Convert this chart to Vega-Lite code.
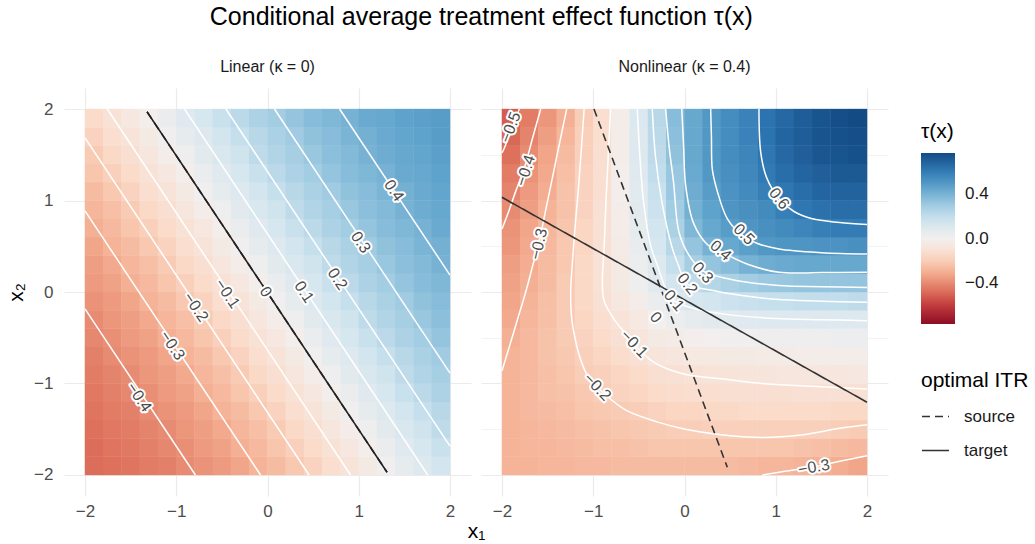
{
  "$schema": "https://vega.github.io/schema/vega-lite/v6.json",
  "padding": 5,
  "title": {"text": "Conditional average treatment effect function τ(x)", "fontSize": 25, "fontWeight": "normal", "color": "#000000", "anchor": "middle", "offset": 29, "dx": -36},
  "config": {
    "font": "Liberation Sans",
    "view": {"stroke": null},
    "axis": {"domain": false, "ticks": false, "gridColor": "#ebebeb", "labelColor": "#4d4d4d", "labelFontSize": 17, "titleFontSize": 21, "titleFontWeight": "normal", "titleColor": "#000000", "labelPadding": 7, "labelOverlap": false},
    "legend": {"titleFontSize": 21, "titleFontWeight": "normal", "titleColor": "#000000", "labelFontSize": 17, "labelColor": "#1a1a1a"}
  },
  "datasets": {
    "lin": [
      {"x":-1.9,"y":-1.9,"t":-0.48},{"x":-1.7,"y":-1.9,"t":-0.47},{"x":-1.5,"y":-1.9,"t":-0.46},{"x":-1.3,"y":-1.9,"t":-0.44},{"x":-1.1,"y":-1.9,"t":-0.43},{"x":-0.9,"y":-1.9,"t":-0.40},{"x":-0.7,"y":-1.9,"t":-0.38},{"x":-0.5,"y":-1.9,"t":-0.36},{"x":-0.3,"y":-1.9,"t":-0.33},{"x":-0.1,"y":-1.9,"t":-0.29},{"x":0.1,"y":-1.9,"t":-0.26},{"x":0.3,"y":-1.9,"t":-0.22},{"x":0.5,"y":-1.9,"t":-0.18},{"x":0.7,"y":-1.9,"t":-0.13},{"x":0.9,"y":-1.9,"t":-0.09},{"x":1.1,"y":-1.9,"t":-0.04},{"x":1.3,"y":-1.9,"t":0.01},{"x":1.5,"y":-1.9,"t":0.06},{"x":1.7,"y":-1.9,"t":0.10},{"x":1.9,"y":-1.9,"t":0.15},
      {"x":-1.9,"y":-1.7,"t":-0.48},{"x":-1.7,"y":-1.7,"t":-0.46},{"x":-1.5,"y":-1.7,"t":-0.45},{"x":-1.3,"y":-1.7,"t":-0.43},{"x":-1.1,"y":-1.7,"t":-0.41},{"x":-0.9,"y":-1.7,"t":-0.39},{"x":-0.7,"y":-1.7,"t":-0.36},{"x":-0.5,"y":-1.7,"t":-0.34},{"x":-0.3,"y":-1.7,"t":-0.30},{"x":-0.1,"y":-1.7,"t":-0.27},{"x":0.1,"y":-1.7,"t":-0.23},{"x":0.3,"y":-1.7,"t":-0.19},{"x":0.5,"y":-1.7,"t":-0.15},{"x":0.7,"y":-1.7,"t":-0.10},{"x":0.9,"y":-1.7,"t":-0.06},{"x":1.1,"y":-1.7,"t":-0.01},{"x":1.3,"y":-1.7,"t":0.04},{"x":1.5,"y":-1.7,"t":0.09},{"x":1.7,"y":-1.7,"t":0.13},{"x":1.9,"y":-1.7,"t":0.18},
      {"x":-1.9,"y":-1.5,"t":-0.47},{"x":-1.7,"y":-1.5,"t":-0.45},{"x":-1.5,"y":-1.5,"t":-0.44},{"x":-1.3,"y":-1.5,"t":-0.42},{"x":-1.1,"y":-1.5,"t":-0.40},{"x":-0.9,"y":-1.5,"t":-0.37},{"x":-0.7,"y":-1.5,"t":-0.35},{"x":-0.5,"y":-1.5,"t":-0.32},{"x":-0.3,"y":-1.5,"t":-0.28},{"x":-0.1,"y":-1.5,"t":-0.25},{"x":0.1,"y":-1.5,"t":-0.21},{"x":0.3,"y":-1.5,"t":-0.16},{"x":0.5,"y":-1.5,"t":-0.12},{"x":0.7,"y":-1.5,"t":-0.07},{"x":0.9,"y":-1.5,"t":-0.02},{"x":1.1,"y":-1.5,"t":0.02},{"x":1.3,"y":-1.5,"t":0.07},{"x":1.5,"y":-1.5,"t":0.12},{"x":1.7,"y":-1.5,"t":0.16},{"x":1.9,"y":-1.5,"t":0.21},
      {"x":-1.9,"y":-1.3,"t":-0.46},{"x":-1.7,"y":-1.3,"t":-0.44},{"x":-1.5,"y":-1.3,"t":-0.43},{"x":-1.3,"y":-1.3,"t":-0.40},{"x":-1.1,"y":-1.3,"t":-0.38},{"x":-0.9,"y":-1.3,"t":-0.36},{"x":-0.7,"y":-1.3,"t":-0.33},{"x":-0.5,"y":-1.3,"t":-0.29},{"x":-0.3,"y":-1.3,"t":-0.26},{"x":-0.1,"y":-1.3,"t":-0.22},{"x":0.1,"y":-1.3,"t":-0.18},{"x":0.3,"y":-1.3,"t":-0.13},{"x":0.5,"y":-1.3,"t":-0.09},{"x":0.7,"y":-1.3,"t":-0.04},{"x":0.9,"y":-1.3,"t":0.01},{"x":1.1,"y":-1.3,"t":0.06},{"x":1.3,"y":-1.3,"t":0.10},{"x":1.5,"y":-1.3,"t":0.15},{"x":1.7,"y":-1.3,"t":0.19},{"x":1.9,"y":-1.3,"t":0.23},
      {"x":-1.9,"y":-1.1,"t":-0.45},{"x":-1.7,"y":-1.1,"t":-0.43},{"x":-1.5,"y":-1.1,"t":-0.41},{"x":-1.3,"y":-1.1,"t":-0.39},{"x":-1.1,"y":-1.1,"t":-0.36},{"x":-0.9,"y":-1.1,"t":-0.34},{"x":-0.7,"y":-1.1,"t":-0.30},{"x":-0.5,"y":-1.1,"t":-0.27},{"x":-0.3,"y":-1.1,"t":-0.23},{"x":-0.1,"y":-1.1,"t":-0.19},{"x":0.1,"y":-1.1,"t":-0.15},{"x":0.3,"y":-1.1,"t":-0.10},{"x":0.5,"y":-1.1,"t":-0.06},{"x":0.7,"y":-1.1,"t":-0.01},{"x":0.9,"y":-1.1,"t":0.04},{"x":1.1,"y":-1.1,"t":0.09},{"x":1.3,"y":-1.1,"t":0.13},{"x":1.5,"y":-1.1,"t":0.18},{"x":1.7,"y":-1.1,"t":0.22},{"x":1.9,"y":-1.1,"t":0.26},
      {"x":-1.9,"y":-0.9,"t":-0.44},{"x":-1.7,"y":-0.9,"t":-0.42},{"x":-1.5,"y":-0.9,"t":-0.40},{"x":-1.3,"y":-0.9,"t":-0.37},{"x":-1.1,"y":-0.9,"t":-0.35},{"x":-0.9,"y":-0.9,"t":-0.32},{"x":-0.7,"y":-0.9,"t":-0.28},{"x":-0.5,"y":-0.9,"t":-0.25},{"x":-0.3,"y":-0.9,"t":-0.21},{"x":-0.1,"y":-0.9,"t":-0.16},{"x":0.1,"y":-0.9,"t":-0.12},{"x":0.3,"y":-0.9,"t":-0.07},{"x":0.5,"y":-0.9,"t":-0.02},{"x":0.7,"y":-0.9,"t":0.02},{"x":0.9,"y":-0.9,"t":0.07},{"x":1.1,"y":-0.9,"t":0.12},{"x":1.3,"y":-0.9,"t":0.16},{"x":1.5,"y":-0.9,"t":0.21},{"x":1.7,"y":-0.9,"t":0.25},{"x":1.9,"y":-0.9,"t":0.28},
      {"x":-1.9,"y":-0.7,"t":-0.43},{"x":-1.7,"y":-0.7,"t":-0.40},{"x":-1.5,"y":-0.7,"t":-0.38},{"x":-1.3,"y":-0.7,"t":-0.36},{"x":-1.1,"y":-0.7,"t":-0.33},{"x":-0.9,"y":-0.7,"t":-0.29},{"x":-0.7,"y":-0.7,"t":-0.26},{"x":-0.5,"y":-0.7,"t":-0.22},{"x":-0.3,"y":-0.7,"t":-0.18},{"x":-0.1,"y":-0.7,"t":-0.13},{"x":0.1,"y":-0.7,"t":-0.09},{"x":0.3,"y":-0.7,"t":-0.04},{"x":0.5,"y":-0.7,"t":0.01},{"x":0.7,"y":-0.7,"t":0.06},{"x":0.9,"y":-0.7,"t":0.10},{"x":1.1,"y":-0.7,"t":0.15},{"x":1.3,"y":-0.7,"t":0.19},{"x":1.5,"y":-0.7,"t":0.23},{"x":1.7,"y":-0.7,"t":0.27},{"x":1.9,"y":-0.7,"t":0.30},
      {"x":-1.9,"y":-0.5,"t":-0.41},{"x":-1.7,"y":-0.5,"t":-0.39},{"x":-1.5,"y":-0.5,"t":-0.36},{"x":-1.3,"y":-0.5,"t":-0.34},{"x":-1.1,"y":-0.5,"t":-0.30},{"x":-0.9,"y":-0.5,"t":-0.27},{"x":-0.7,"y":-0.5,"t":-0.23},{"x":-0.5,"y":-0.5,"t":-0.19},{"x":-0.3,"y":-0.5,"t":-0.15},{"x":-0.1,"y":-0.5,"t":-0.10},{"x":0.1,"y":-0.5,"t":-0.06},{"x":0.3,"y":-0.5,"t":-0.01},{"x":0.5,"y":-0.5,"t":0.04},{"x":0.7,"y":-0.5,"t":0.09},{"x":0.9,"y":-0.5,"t":0.13},{"x":1.1,"y":-0.5,"t":0.18},{"x":1.3,"y":-0.5,"t":0.22},{"x":1.5,"y":-0.5,"t":0.26},{"x":1.7,"y":-0.5,"t":0.29},{"x":1.9,"y":-0.5,"t":0.33},
      {"x":-1.9,"y":-0.3,"t":-0.40},{"x":-1.7,"y":-0.3,"t":-0.37},{"x":-1.5,"y":-0.3,"t":-0.35},{"x":-1.3,"y":-0.3,"t":-0.32},{"x":-1.1,"y":-0.3,"t":-0.28},{"x":-0.9,"y":-0.3,"t":-0.25},{"x":-0.7,"y":-0.3,"t":-0.21},{"x":-0.5,"y":-0.3,"t":-0.16},{"x":-0.3,"y":-0.3,"t":-0.12},{"x":-0.1,"y":-0.3,"t":-0.07},{"x":0.1,"y":-0.3,"t":-0.02},{"x":0.3,"y":-0.3,"t":0.02},{"x":0.5,"y":-0.3,"t":0.07},{"x":0.7,"y":-0.3,"t":0.12},{"x":0.9,"y":-0.3,"t":0.16},{"x":1.1,"y":-0.3,"t":0.21},{"x":1.3,"y":-0.3,"t":0.25},{"x":1.5,"y":-0.3,"t":0.28},{"x":1.7,"y":-0.3,"t":0.32},{"x":1.9,"y":-0.3,"t":0.35},
      {"x":-1.9,"y":-0.1,"t":-0.38},{"x":-1.7,"y":-0.1,"t":-0.36},{"x":-1.5,"y":-0.1,"t":-0.33},{"x":-1.3,"y":-0.1,"t":-0.29},{"x":-1.1,"y":-0.1,"t":-0.26},{"x":-0.9,"y":-0.1,"t":-0.22},{"x":-0.7,"y":-0.1,"t":-0.18},{"x":-0.5,"y":-0.1,"t":-0.13},{"x":-0.3,"y":-0.1,"t":-0.09},{"x":-0.1,"y":-0.1,"t":-0.04},{"x":0.1,"y":-0.1,"t":0.01},{"x":0.3,"y":-0.1,"t":0.06},{"x":0.5,"y":-0.1,"t":0.10},{"x":0.7,"y":-0.1,"t":0.15},{"x":0.9,"y":-0.1,"t":0.19},{"x":1.1,"y":-0.1,"t":0.23},{"x":1.3,"y":-0.1,"t":0.27},{"x":1.5,"y":-0.1,"t":0.30},{"x":1.7,"y":-0.1,"t":0.34},{"x":1.9,"y":-0.1,"t":0.36},
      {"x":-1.9,"y":0.1,"t":-0.36},{"x":-1.7,"y":0.1,"t":-0.34},{"x":-1.5,"y":0.1,"t":-0.30},{"x":-1.3,"y":0.1,"t":-0.27},{"x":-1.1,"y":0.1,"t":-0.23},{"x":-0.9,"y":0.1,"t":-0.19},{"x":-0.7,"y":0.1,"t":-0.15},{"x":-0.5,"y":0.1,"t":-0.10},{"x":-0.3,"y":0.1,"t":-0.06},{"x":-0.1,"y":0.1,"t":-0.01},{"x":0.1,"y":0.1,"t":0.04},{"x":0.3,"y":0.1,"t":0.09},{"x":0.5,"y":0.1,"t":0.13},{"x":0.7,"y":0.1,"t":0.18},{"x":0.9,"y":0.1,"t":0.22},{"x":1.1,"y":0.1,"t":0.26},{"x":1.3,"y":0.1,"t":0.29},{"x":1.5,"y":0.1,"t":0.33},{"x":1.7,"y":0.1,"t":0.36},{"x":1.9,"y":0.1,"t":0.38},
      {"x":-1.9,"y":0.3,"t":-0.35},{"x":-1.7,"y":0.3,"t":-0.32},{"x":-1.5,"y":0.3,"t":-0.28},{"x":-1.3,"y":0.3,"t":-0.25},{"x":-1.1,"y":0.3,"t":-0.21},{"x":-0.9,"y":0.3,"t":-0.16},{"x":-0.7,"y":0.3,"t":-0.12},{"x":-0.5,"y":0.3,"t":-0.07},{"x":-0.3,"y":0.3,"t":-0.02},{"x":-0.1,"y":0.3,"t":0.02},{"x":0.1,"y":0.3,"t":0.07},{"x":0.3,"y":0.3,"t":0.12},{"x":0.5,"y":0.3,"t":0.16},{"x":0.7,"y":0.3,"t":0.21},{"x":0.9,"y":0.3,"t":0.25},{"x":1.1,"y":0.3,"t":0.28},{"x":1.3,"y":0.3,"t":0.32},{"x":1.5,"y":0.3,"t":0.35},{"x":1.7,"y":0.3,"t":0.37},{"x":1.9,"y":0.3,"t":0.40},
      {"x":-1.9,"y":0.5,"t":-0.33},{"x":-1.7,"y":0.5,"t":-0.29},{"x":-1.5,"y":0.5,"t":-0.26},{"x":-1.3,"y":0.5,"t":-0.22},{"x":-1.1,"y":0.5,"t":-0.18},{"x":-0.9,"y":0.5,"t":-0.13},{"x":-0.7,"y":0.5,"t":-0.09},{"x":-0.5,"y":0.5,"t":-0.04},{"x":-0.3,"y":0.5,"t":0.01},{"x":-0.1,"y":0.5,"t":0.06},{"x":0.1,"y":0.5,"t":0.10},{"x":0.3,"y":0.5,"t":0.15},{"x":0.5,"y":0.5,"t":0.19},{"x":0.7,"y":0.5,"t":0.23},{"x":0.9,"y":0.5,"t":0.27},{"x":1.1,"y":0.5,"t":0.30},{"x":1.3,"y":0.5,"t":0.34},{"x":1.5,"y":0.5,"t":0.36},{"x":1.7,"y":0.5,"t":0.39},{"x":1.9,"y":0.5,"t":0.41},
      {"x":-1.9,"y":0.7,"t":-0.30},{"x":-1.7,"y":0.7,"t":-0.27},{"x":-1.5,"y":0.7,"t":-0.23},{"x":-1.3,"y":0.7,"t":-0.19},{"x":-1.1,"y":0.7,"t":-0.15},{"x":-0.9,"y":0.7,"t":-0.10},{"x":-0.7,"y":0.7,"t":-0.06},{"x":-0.5,"y":0.7,"t":-0.01},{"x":-0.3,"y":0.7,"t":0.04},{"x":-0.1,"y":0.7,"t":0.09},{"x":0.1,"y":0.7,"t":0.13},{"x":0.3,"y":0.7,"t":0.18},{"x":0.5,"y":0.7,"t":0.22},{"x":0.7,"y":0.7,"t":0.26},{"x":0.9,"y":0.7,"t":0.29},{"x":1.1,"y":0.7,"t":0.33},{"x":1.3,"y":0.7,"t":0.36},{"x":1.5,"y":0.7,"t":0.38},{"x":1.7,"y":0.7,"t":0.40},{"x":1.9,"y":0.7,"t":0.43},
      {"x":-1.9,"y":0.9,"t":-0.28},{"x":-1.7,"y":0.9,"t":-0.25},{"x":-1.5,"y":0.9,"t":-0.21},{"x":-1.3,"y":0.9,"t":-0.16},{"x":-1.1,"y":0.9,"t":-0.12},{"x":-0.9,"y":0.9,"t":-0.07},{"x":-0.7,"y":0.9,"t":-0.02},{"x":-0.5,"y":0.9,"t":0.02},{"x":-0.3,"y":0.9,"t":0.07},{"x":-0.1,"y":0.9,"t":0.12},{"x":0.1,"y":0.9,"t":0.16},{"x":0.3,"y":0.9,"t":0.21},{"x":0.5,"y":0.9,"t":0.25},{"x":0.7,"y":0.9,"t":0.28},{"x":0.9,"y":0.9,"t":0.32},{"x":1.1,"y":0.9,"t":0.35},{"x":1.3,"y":0.9,"t":0.37},{"x":1.5,"y":0.9,"t":0.40},{"x":1.7,"y":0.9,"t":0.42},{"x":1.9,"y":0.9,"t":0.44},
      {"x":-1.9,"y":1.1,"t":-0.26},{"x":-1.7,"y":1.1,"t":-0.22},{"x":-1.5,"y":1.1,"t":-0.18},{"x":-1.3,"y":1.1,"t":-0.13},{"x":-1.1,"y":1.1,"t":-0.09},{"x":-0.9,"y":1.1,"t":-0.04},{"x":-0.7,"y":1.1,"t":0.01},{"x":-0.5,"y":1.1,"t":0.06},{"x":-0.3,"y":1.1,"t":0.10},{"x":-0.1,"y":1.1,"t":0.15},{"x":0.1,"y":1.1,"t":0.19},{"x":0.3,"y":1.1,"t":0.23},{"x":0.5,"y":1.1,"t":0.27},{"x":0.7,"y":1.1,"t":0.30},{"x":0.9,"y":1.1,"t":0.34},{"x":1.1,"y":1.1,"t":0.36},{"x":1.3,"y":1.1,"t":0.39},{"x":1.5,"y":1.1,"t":0.41},{"x":1.7,"y":1.1,"t":0.43},{"x":1.9,"y":1.1,"t":0.45},
      {"x":-1.9,"y":1.3,"t":-0.23},{"x":-1.7,"y":1.3,"t":-0.19},{"x":-1.5,"y":1.3,"t":-0.15},{"x":-1.3,"y":1.3,"t":-0.10},{"x":-1.1,"y":1.3,"t":-0.06},{"x":-0.9,"y":1.3,"t":-0.01},{"x":-0.7,"y":1.3,"t":0.04},{"x":-0.5,"y":1.3,"t":0.09},{"x":-0.3,"y":1.3,"t":0.13},{"x":-0.1,"y":1.3,"t":0.18},{"x":0.1,"y":1.3,"t":0.22},{"x":0.3,"y":1.3,"t":0.26},{"x":0.5,"y":1.3,"t":0.29},{"x":0.7,"y":1.3,"t":0.33},{"x":0.9,"y":1.3,"t":0.36},{"x":1.1,"y":1.3,"t":0.38},{"x":1.3,"y":1.3,"t":0.40},{"x":1.5,"y":1.3,"t":0.43},{"x":1.7,"y":1.3,"t":0.44},{"x":1.9,"y":1.3,"t":0.46},
      {"x":-1.9,"y":1.5,"t":-0.21},{"x":-1.7,"y":1.5,"t":-0.16},{"x":-1.5,"y":1.5,"t":-0.12},{"x":-1.3,"y":1.5,"t":-0.07},{"x":-1.1,"y":1.5,"t":-0.02},{"x":-0.9,"y":1.5,"t":0.02},{"x":-0.7,"y":1.5,"t":0.07},{"x":-0.5,"y":1.5,"t":0.12},{"x":-0.3,"y":1.5,"t":0.16},{"x":-0.1,"y":1.5,"t":0.21},{"x":0.1,"y":1.5,"t":0.25},{"x":0.3,"y":1.5,"t":0.28},{"x":0.5,"y":1.5,"t":0.32},{"x":0.7,"y":1.5,"t":0.35},{"x":0.9,"y":1.5,"t":0.37},{"x":1.1,"y":1.5,"t":0.40},{"x":1.3,"y":1.5,"t":0.42},{"x":1.5,"y":1.5,"t":0.44},{"x":1.7,"y":1.5,"t":0.45},{"x":1.9,"y":1.5,"t":0.47},
      {"x":-1.9,"y":1.7,"t":-0.18},{"x":-1.7,"y":1.7,"t":-0.13},{"x":-1.5,"y":1.7,"t":-0.09},{"x":-1.3,"y":1.7,"t":-0.04},{"x":-1.1,"y":1.7,"t":0.01},{"x":-0.9,"y":1.7,"t":0.06},{"x":-0.7,"y":1.7,"t":0.10},{"x":-0.5,"y":1.7,"t":0.15},{"x":-0.3,"y":1.7,"t":0.19},{"x":-0.1,"y":1.7,"t":0.23},{"x":0.1,"y":1.7,"t":0.27},{"x":0.3,"y":1.7,"t":0.30},{"x":0.5,"y":1.7,"t":0.34},{"x":0.7,"y":1.7,"t":0.36},{"x":0.9,"y":1.7,"t":0.39},{"x":1.1,"y":1.7,"t":0.41},{"x":1.3,"y":1.7,"t":0.43},{"x":1.5,"y":1.7,"t":0.45},{"x":1.7,"y":1.7,"t":0.46},{"x":1.9,"y":1.7,"t":0.48},
      {"x":-1.9,"y":1.9,"t":-0.15},{"x":-1.7,"y":1.9,"t":-0.10},{"x":-1.5,"y":1.9,"t":-0.06},{"x":-1.3,"y":1.9,"t":-0.01},{"x":-1.1,"y":1.9,"t":0.04},{"x":-0.9,"y":1.9,"t":0.09},{"x":-0.7,"y":1.9,"t":0.13},{"x":-0.5,"y":1.9,"t":0.18},{"x":-0.3,"y":1.9,"t":0.22},{"x":-0.1,"y":1.9,"t":0.26},{"x":0.1,"y":1.9,"t":0.29},{"x":0.3,"y":1.9,"t":0.33},{"x":0.5,"y":1.9,"t":0.36},{"x":0.7,"y":1.9,"t":0.38},{"x":0.9,"y":1.9,"t":0.40},{"x":1.1,"y":1.9,"t":0.43},{"x":1.3,"y":1.9,"t":0.44},{"x":1.5,"y":1.9,"t":0.46},{"x":1.7,"y":1.9,"t":0.47},{"x":1.9,"y":1.9,"t":0.48}
    ],
    "non": [
      {"x":-1.9,"y":-1.9,"t":-0.29},{"x":-1.7,"y":-1.9,"t":-0.29},{"x":-1.5,"y":-1.9,"t":-0.28},{"x":-1.3,"y":-1.9,"t":-0.28},{"x":-1.1,"y":-1.9,"t":-0.27},{"x":-0.9,"y":-1.9,"t":-0.27},{"x":-0.7,"y":-1.9,"t":-0.26},{"x":-0.5,"y":-1.9,"t":-0.26},{"x":-0.3,"y":-1.9,"t":-0.26},{"x":-0.1,"y":-1.9,"t":-0.26},{"x":0.1,"y":-1.9,"t":-0.26},{"x":0.3,"y":-1.9,"t":-0.26},{"x":0.5,"y":-1.9,"t":-0.26},{"x":0.7,"y":-1.9,"t":-0.27},{"x":0.9,"y":-1.9,"t":-0.28},{"x":1.1,"y":-1.9,"t":-0.28},{"x":1.3,"y":-1.9,"t":-0.29},{"x":1.5,"y":-1.9,"t":-0.30},{"x":1.7,"y":-1.9,"t":-0.31},{"x":1.9,"y":-1.9,"t":-0.33},
      {"x":-1.9,"y":-1.7,"t":-0.29},{"x":-1.7,"y":-1.7,"t":-0.28},{"x":-1.5,"y":-1.7,"t":-0.28},{"x":-1.3,"y":-1.7,"t":-0.27},{"x":-1.1,"y":-1.7,"t":-0.26},{"x":-0.9,"y":-1.7,"t":-0.25},{"x":-0.7,"y":-1.7,"t":-0.25},{"x":-0.5,"y":-1.7,"t":-0.24},{"x":-0.3,"y":-1.7,"t":-0.23},{"x":-0.1,"y":-1.7,"t":-0.23},{"x":0.1,"y":-1.7,"t":-0.23},{"x":0.3,"y":-1.7,"t":-0.23},{"x":0.5,"y":-1.7,"t":-0.23},{"x":0.7,"y":-1.7,"t":-0.23},{"x":0.9,"y":-1.7,"t":-0.23},{"x":1.1,"y":-1.7,"t":-0.23},{"x":1.3,"y":-1.7,"t":-0.24},{"x":1.5,"y":-1.7,"t":-0.25},{"x":1.7,"y":-1.7,"t":-0.26},{"x":1.9,"y":-1.7,"t":-0.27},
      {"x":-1.9,"y":-1.5,"t":-0.29},{"x":-1.7,"y":-1.5,"t":-0.28},{"x":-1.5,"y":-1.5,"t":-0.27},{"x":-1.3,"y":-1.5,"t":-0.26},{"x":-1.1,"y":-1.5,"t":-0.25},{"x":-0.9,"y":-1.5,"t":-0.24},{"x":-0.7,"y":-1.5,"t":-0.23},{"x":-0.5,"y":-1.5,"t":-0.22},{"x":-0.3,"y":-1.5,"t":-0.21},{"x":-0.1,"y":-1.5,"t":-0.20},{"x":0.1,"y":-1.5,"t":-0.20},{"x":0.3,"y":-1.5,"t":-0.19},{"x":0.5,"y":-1.5,"t":-0.19},{"x":0.7,"y":-1.5,"t":-0.19},{"x":0.9,"y":-1.5,"t":-0.19},{"x":1.1,"y":-1.5,"t":-0.19},{"x":1.3,"y":-1.5,"t":-0.19},{"x":1.5,"y":-1.5,"t":-0.19},{"x":1.7,"y":-1.5,"t":-0.20},{"x":1.9,"y":-1.5,"t":-0.21},
      {"x":-1.9,"y":-1.3,"t":-0.29},{"x":-1.7,"y":-1.3,"t":-0.27},{"x":-1.5,"y":-1.3,"t":-0.26},{"x":-1.3,"y":-1.3,"t":-0.25},{"x":-1.1,"y":-1.3,"t":-0.23},{"x":-0.9,"y":-1.3,"t":-0.22},{"x":-0.7,"y":-1.3,"t":-0.21},{"x":-0.5,"y":-1.3,"t":-0.20},{"x":-0.3,"y":-1.3,"t":-0.18},{"x":-0.1,"y":-1.3,"t":-0.17},{"x":0.1,"y":-1.3,"t":-0.17},{"x":0.3,"y":-1.3,"t":-0.16},{"x":0.5,"y":-1.3,"t":-0.16},{"x":0.7,"y":-1.3,"t":-0.15},{"x":0.9,"y":-1.3,"t":-0.15},{"x":1.1,"y":-1.3,"t":-0.15},{"x":1.3,"y":-1.3,"t":-0.15},{"x":1.5,"y":-1.3,"t":-0.15},{"x":1.7,"y":-1.3,"t":-0.16},{"x":1.9,"y":-1.3,"t":-0.16},
      {"x":-1.9,"y":-1.1,"t":-0.29},{"x":-1.7,"y":-1.1,"t":-0.27},{"x":-1.5,"y":-1.1,"t":-0.25},{"x":-1.3,"y":-1.1,"t":-0.24},{"x":-1.1,"y":-1.1,"t":-0.22},{"x":-0.9,"y":-1.1,"t":-0.20},{"x":-0.7,"y":-1.1,"t":-0.18},{"x":-0.5,"y":-1.1,"t":-0.17},{"x":-0.3,"y":-1.1,"t":-0.15},{"x":-0.1,"y":-1.1,"t":-0.14},{"x":0.1,"y":-1.1,"t":-0.13},{"x":0.3,"y":-1.1,"t":-0.13},{"x":0.5,"y":-1.1,"t":-0.12},{"x":0.7,"y":-1.1,"t":-0.12},{"x":0.9,"y":-1.1,"t":-0.12},{"x":1.1,"y":-1.1,"t":-0.12},{"x":1.3,"y":-1.1,"t":-0.11},{"x":1.5,"y":-1.1,"t":-0.11},{"x":1.7,"y":-1.1,"t":-0.11},{"x":1.9,"y":-1.1,"t":-0.11},
      {"x":-1.9,"y":-0.9,"t":-0.29},{"x":-1.7,"y":-0.9,"t":-0.27},{"x":-1.5,"y":-0.9,"t":-0.25},{"x":-1.3,"y":-0.9,"t":-0.23},{"x":-1.1,"y":-0.9,"t":-0.20},{"x":-0.9,"y":-0.9,"t":-0.19},{"x":-0.7,"y":-0.9,"t":-0.17},{"x":-0.5,"y":-0.9,"t":-0.15},{"x":-0.3,"y":-0.9,"t":-0.12},{"x":-0.1,"y":-0.9,"t":-0.11},{"x":0.1,"y":-0.9,"t":-0.10},{"x":0.3,"y":-0.9,"t":-0.09},{"x":0.5,"y":-0.9,"t":-0.09},{"x":0.7,"y":-0.9,"t":-0.08},{"x":0.9,"y":-0.9,"t":-0.08},{"x":1.1,"y":-0.9,"t":-0.07},{"x":1.3,"y":-0.9,"t":-0.07},{"x":1.5,"y":-0.9,"t":-0.07},{"x":1.7,"y":-0.9,"t":-0.07},{"x":1.9,"y":-0.9,"t":-0.06},
      {"x":-1.9,"y":-0.7,"t":-0.29},{"x":-1.7,"y":-0.7,"t":-0.27},{"x":-1.5,"y":-0.7,"t":-0.24},{"x":-1.3,"y":-0.7,"t":-0.22},{"x":-1.1,"y":-0.7,"t":-0.19},{"x":-0.9,"y":-0.7,"t":-0.17},{"x":-0.7,"y":-0.7,"t":-0.14},{"x":-0.5,"y":-0.7,"t":-0.11},{"x":-0.3,"y":-0.7,"t":-0.08},{"x":-0.1,"y":-0.7,"t":-0.07},{"x":0.1,"y":-0.7,"t":-0.05},{"x":0.3,"y":-0.7,"t":-0.05},{"x":0.5,"y":-0.7,"t":-0.04},{"x":0.7,"y":-0.7,"t":-0.04},{"x":0.9,"y":-0.7,"t":-0.03},{"x":1.1,"y":-0.7,"t":-0.03},{"x":1.3,"y":-0.7,"t":-0.02},{"x":1.5,"y":-0.7,"t":-0.02},{"x":1.7,"y":-0.7,"t":-0.02},{"x":1.9,"y":-0.7,"t":-0.02},
      {"x":-1.9,"y":-0.5,"t":-0.30},{"x":-1.7,"y":-0.5,"t":-0.27},{"x":-1.5,"y":-0.5,"t":-0.24},{"x":-1.3,"y":-0.5,"t":-0.21},{"x":-1.1,"y":-0.5,"t":-0.18},{"x":-0.9,"y":-0.5,"t":-0.15},{"x":-0.7,"y":-0.5,"t":-0.11},{"x":-0.5,"y":-0.5,"t":-0.08},{"x":-0.3,"y":-0.5,"t":-0.04},{"x":-0.1,"y":-0.5,"t":-0.03},{"x":0.1,"y":-0.5,"t":-0.01},{"x":0.3,"y":-0.5,"t":0.00},{"x":0.5,"y":-0.5,"t":0.01},{"x":0.7,"y":-0.5,"t":0.01},{"x":0.9,"y":-0.5,"t":0.02},{"x":1.1,"y":-0.5,"t":0.02},{"x":1.3,"y":-0.5,"t":0.02},{"x":1.5,"y":-0.5,"t":0.02},{"x":1.7,"y":-0.5,"t":0.03},{"x":1.9,"y":-0.5,"t":0.03},
      {"x":-1.9,"y":-0.3,"t":-0.32},{"x":-1.7,"y":-0.3,"t":-0.28},{"x":-1.5,"y":-0.3,"t":-0.25},{"x":-1.3,"y":-0.3,"t":-0.21},{"x":-1.1,"y":-0.3,"t":-0.17},{"x":-0.9,"y":-0.3,"t":-0.13},{"x":-0.7,"y":-0.3,"t":-0.09},{"x":-0.5,"y":-0.3,"t":-0.05},{"x":-0.3,"y":-0.3,"t":0.00},{"x":-0.1,"y":-0.3,"t":0.03},{"x":0.1,"y":-0.3,"t":0.06},{"x":0.3,"y":-0.3,"t":0.07},{"x":0.5,"y":-0.3,"t":0.08},{"x":0.7,"y":-0.3,"t":0.09},{"x":0.9,"y":-0.3,"t":0.10},{"x":1.1,"y":-0.3,"t":0.10},{"x":1.3,"y":-0.3,"t":0.10},{"x":1.5,"y":-0.3,"t":0.10},{"x":1.7,"y":-0.3,"t":0.10},{"x":1.9,"y":-0.3,"t":0.10},
      {"x":-1.9,"y":-0.1,"t":-0.33},{"x":-1.7,"y":-0.1,"t":-0.29},{"x":-1.5,"y":-0.1,"t":-0.25},{"x":-1.3,"y":-0.1,"t":-0.21},{"x":-1.1,"y":-0.1,"t":-0.16},{"x":-0.9,"y":-0.1,"t":-0.11},{"x":-0.7,"y":-0.1,"t":-0.06},{"x":-0.5,"y":-0.1,"t":-0.02},{"x":-0.3,"y":-0.1,"t":0.04},{"x":-0.1,"y":-0.1,"t":0.11},{"x":0.1,"y":-0.1,"t":0.13},{"x":0.3,"y":-0.1,"t":0.15},{"x":0.5,"y":-0.1,"t":0.17},{"x":0.7,"y":-0.1,"t":0.18},{"x":0.9,"y":-0.1,"t":0.19},{"x":1.1,"y":-0.1,"t":0.19},{"x":1.3,"y":-0.1,"t":0.20},{"x":1.5,"y":-0.1,"t":0.20},{"x":1.7,"y":-0.1,"t":0.20},{"x":1.9,"y":-0.1,"t":0.21},
      {"x":-1.9,"y":0.1,"t":-0.34},{"x":-1.7,"y":0.1,"t":-0.30},{"x":-1.5,"y":0.1,"t":-0.26},{"x":-1.3,"y":0.1,"t":-0.21},{"x":-1.1,"y":0.1,"t":-0.16},{"x":-0.9,"y":0.1,"t":-0.10},{"x":-0.7,"y":0.1,"t":-0.04},{"x":-0.5,"y":0.1,"t":0.02},{"x":-0.3,"y":0.1,"t":0.08},{"x":-0.1,"y":0.1,"t":0.15},{"x":0.1,"y":0.1,"t":0.21},{"x":0.3,"y":0.1,"t":0.24},{"x":0.5,"y":0.1,"t":0.27},{"x":0.7,"y":0.1,"t":0.29},{"x":0.9,"y":0.1,"t":0.31},{"x":1.1,"y":0.1,"t":0.32},{"x":1.3,"y":0.1,"t":0.33},{"x":1.5,"y":0.1,"t":0.33},{"x":1.7,"y":0.1,"t":0.33},{"x":1.9,"y":0.1,"t":0.33},
      {"x":-1.9,"y":0.3,"t":-0.35},{"x":-1.7,"y":0.3,"t":-0.31},{"x":-1.5,"y":0.3,"t":-0.26},{"x":-1.3,"y":0.3,"t":-0.22},{"x":-1.1,"y":0.3,"t":-0.16},{"x":-0.9,"y":0.3,"t":-0.10},{"x":-0.7,"y":0.3,"t":-0.04},{"x":-0.5,"y":0.3,"t":0.03},{"x":-0.3,"y":0.3,"t":0.10},{"x":-0.1,"y":0.3,"t":0.19},{"x":0.1,"y":0.3,"t":0.28},{"x":0.3,"y":0.3,"t":0.33},{"x":0.5,"y":0.3,"t":0.36},{"x":0.7,"y":0.3,"t":0.40},{"x":0.9,"y":0.3,"t":0.42},{"x":1.1,"y":0.3,"t":0.43},{"x":1.3,"y":0.3,"t":0.44},{"x":1.5,"y":0.3,"t":0.44},{"x":1.7,"y":0.3,"t":0.44},{"x":1.9,"y":0.3,"t":0.44},
      {"x":-1.9,"y":0.5,"t":-0.37},{"x":-1.7,"y":0.5,"t":-0.32},{"x":-1.5,"y":0.5,"t":-0.27},{"x":-1.3,"y":0.5,"t":-0.22},{"x":-1.1,"y":0.5,"t":-0.17},{"x":-0.9,"y":0.5,"t":-0.11},{"x":-0.7,"y":0.5,"t":-0.03},{"x":-0.5,"y":0.5,"t":0.05},{"x":-0.3,"y":0.5,"t":0.13},{"x":-0.1,"y":0.5,"t":0.23},{"x":0.1,"y":0.5,"t":0.33},{"x":0.3,"y":0.5,"t":0.40},{"x":0.5,"y":0.5,"t":0.44},{"x":0.7,"y":0.5,"t":0.47},{"x":0.9,"y":0.5,"t":0.50},{"x":1.1,"y":0.5,"t":0.51},{"x":1.3,"y":0.5,"t":0.51},{"x":1.5,"y":0.5,"t":0.52},{"x":1.7,"y":0.5,"t":0.52},{"x":1.9,"y":0.5,"t":0.53},
      {"x":-1.9,"y":0.7,"t":-0.38},{"x":-1.7,"y":0.7,"t":-0.33},{"x":-1.5,"y":0.7,"t":-0.28},{"x":-1.3,"y":0.7,"t":-0.23},{"x":-1.1,"y":0.7,"t":-0.17},{"x":-0.9,"y":0.7,"t":-0.11},{"x":-0.7,"y":0.7,"t":-0.02},{"x":-0.5,"y":0.7,"t":0.06},{"x":-0.3,"y":0.7,"t":0.15},{"x":-0.1,"y":0.7,"t":0.27},{"x":0.1,"y":0.7,"t":0.38},{"x":0.3,"y":0.7,"t":0.44},{"x":0.5,"y":0.7,"t":0.48},{"x":0.7,"y":0.7,"t":0.51},{"x":0.9,"y":0.7,"t":0.53},{"x":1.1,"y":0.7,"t":0.55},{"x":1.3,"y":0.7,"t":0.57},{"x":1.5,"y":0.7,"t":0.59},{"x":1.7,"y":0.7,"t":0.60},{"x":1.9,"y":0.7,"t":0.60},
      {"x":-1.9,"y":0.9,"t":-0.40},{"x":-1.7,"y":0.9,"t":-0.35},{"x":-1.5,"y":0.9,"t":-0.29},{"x":-1.3,"y":0.9,"t":-0.24},{"x":-1.1,"y":0.9,"t":-0.18},{"x":-0.9,"y":0.9,"t":-0.11},{"x":-0.7,"y":0.9,"t":-0.02},{"x":-0.5,"y":0.9,"t":0.07},{"x":-0.3,"y":0.9,"t":0.17},{"x":-0.1,"y":0.9,"t":0.29},{"x":0.1,"y":0.9,"t":0.41},{"x":0.3,"y":0.9,"t":0.46},{"x":0.5,"y":0.9,"t":0.51},{"x":0.7,"y":0.9,"t":0.53},{"x":0.9,"y":0.9,"t":0.55},{"x":1.1,"y":0.9,"t":0.59},{"x":1.3,"y":0.9,"t":0.62},{"x":1.5,"y":0.9,"t":0.64},{"x":1.7,"y":0.9,"t":0.65},{"x":1.9,"y":0.9,"t":0.65},
      {"x":-1.9,"y":1.1,"t":-0.42},{"x":-1.7,"y":1.1,"t":-0.36},{"x":-1.5,"y":1.1,"t":-0.31},{"x":-1.3,"y":1.1,"t":-0.24},{"x":-1.1,"y":1.1,"t":-0.18},{"x":-0.9,"y":1.1,"t":-0.12},{"x":-0.7,"y":1.1,"t":-0.01},{"x":-0.5,"y":1.1,"t":0.08},{"x":-0.3,"y":1.1,"t":0.18},{"x":-0.1,"y":1.1,"t":0.31},{"x":0.1,"y":1.1,"t":0.42},{"x":0.3,"y":1.1,"t":0.48},{"x":0.5,"y":1.1,"t":0.52},{"x":0.7,"y":1.1,"t":0.55},{"x":0.9,"y":1.1,"t":0.59},{"x":1.1,"y":1.1,"t":0.62},{"x":1.3,"y":1.1,"t":0.65},{"x":1.5,"y":1.1,"t":0.68},{"x":1.7,"y":1.1,"t":0.69},{"x":1.9,"y":1.1,"t":0.69},
      {"x":-1.9,"y":1.3,"t":-0.44},{"x":-1.7,"y":1.3,"t":-0.38},{"x":-1.5,"y":1.3,"t":-0.32},{"x":-1.3,"y":1.3,"t":-0.25},{"x":-1.1,"y":1.3,"t":-0.18},{"x":-0.9,"y":1.3,"t":-0.12},{"x":-0.7,"y":1.3,"t":-0.01},{"x":-0.5,"y":1.3,"t":0.09},{"x":-0.3,"y":1.3,"t":0.20},{"x":-0.1,"y":1.3,"t":0.32},{"x":0.1,"y":1.3,"t":0.43},{"x":0.3,"y":1.3,"t":0.50},{"x":0.5,"y":1.3,"t":0.53},{"x":0.7,"y":1.3,"t":0.56},{"x":0.9,"y":1.3,"t":0.61},{"x":1.1,"y":1.3,"t":0.65},{"x":1.3,"y":1.3,"t":0.68},{"x":1.5,"y":1.3,"t":0.70},{"x":1.7,"y":1.3,"t":0.72},{"x":1.9,"y":1.3,"t":0.72},
      {"x":-1.9,"y":1.5,"t":-0.47},{"x":-1.7,"y":1.5,"t":-0.40},{"x":-1.5,"y":1.5,"t":-0.33},{"x":-1.3,"y":1.5,"t":-0.26},{"x":-1.1,"y":1.5,"t":-0.19},{"x":-0.9,"y":1.5,"t":-0.12},{"x":-0.7,"y":1.5,"t":-0.02},{"x":-0.5,"y":1.5,"t":0.10},{"x":-0.3,"y":1.5,"t":0.21},{"x":-0.1,"y":1.5,"t":0.34},{"x":0.1,"y":1.5,"t":0.44},{"x":0.3,"y":1.5,"t":0.50},{"x":0.5,"y":1.5,"t":0.54},{"x":0.7,"y":1.5,"t":0.57},{"x":0.9,"y":1.5,"t":0.62},{"x":1.1,"y":1.5,"t":0.67},{"x":1.3,"y":1.5,"t":0.70},{"x":1.5,"y":1.5,"t":0.73},{"x":1.7,"y":1.5,"t":0.74},{"x":1.9,"y":1.5,"t":0.75},
      {"x":-1.9,"y":1.7,"t":-0.49},{"x":-1.7,"y":1.7,"t":-0.42},{"x":-1.5,"y":1.7,"t":-0.35},{"x":-1.3,"y":1.7,"t":-0.28},{"x":-1.1,"y":1.7,"t":-0.19},{"x":-0.9,"y":1.7,"t":-0.13},{"x":-0.7,"y":1.7,"t":-0.02},{"x":-0.5,"y":1.7,"t":0.10},{"x":-0.3,"y":1.7,"t":0.22},{"x":-0.1,"y":1.7,"t":0.35},{"x":0.1,"y":1.7,"t":0.44},{"x":0.3,"y":1.7,"t":0.50},{"x":0.5,"y":1.7,"t":0.54},{"x":0.7,"y":1.7,"t":0.58},{"x":0.9,"y":1.7,"t":0.63},{"x":1.1,"y":1.7,"t":0.68},{"x":1.3,"y":1.7,"t":0.71},{"x":1.5,"y":1.7,"t":0.74},{"x":1.7,"y":1.7,"t":0.75},{"x":1.9,"y":1.7,"t":0.76},
      {"x":-1.9,"y":1.9,"t":-0.52},{"x":-1.7,"y":1.9,"t":-0.44},{"x":-1.5,"y":1.9,"t":-0.37},{"x":-1.3,"y":1.9,"t":-0.30},{"x":-1.1,"y":1.9,"t":-0.20},{"x":-0.9,"y":1.9,"t":-0.13},{"x":-0.7,"y":1.9,"t":-0.02},{"x":-0.5,"y":1.9,"t":0.11},{"x":-0.3,"y":1.9,"t":0.23},{"x":-0.1,"y":1.9,"t":0.36},{"x":0.1,"y":1.9,"t":0.44},{"x":0.3,"y":1.9,"t":0.50},{"x":0.5,"y":1.9,"t":0.54},{"x":0.7,"y":1.9,"t":0.58},{"x":0.9,"y":1.9,"t":0.63},{"x":1.1,"y":1.9,"t":0.67},{"x":1.3,"y":1.9,"t":0.71},{"x":1.5,"y":1.9,"t":0.74},{"x":1.7,"y":1.9,"t":0.76},{"x":1.9,"y":1.9,"t":0.77}
    ],
    "clin": [
      {"lv":"0.1","i":0,"x":-0.91,"y":2},{"lv":"0.1","i":1,"x":1.756,"y":-2},
      {"lv":"0.2","i":0,"x":-0.456,"y":2},{"lv":"0.2","i":1,"x":2,"y":-1.685},
      {"lv":"0.3","i":0,"x":0.076,"y":2},{"lv":"0.3","i":1,"x":2,"y":-0.887},
      {"lv":"0.4","i":0,"x":0.79,"y":2},{"lv":"0.4","i":1,"x":2,"y":0.185},
      {"lv":"-0.1","i":0,"x":-1.756,"y":2},{"lv":"-0.1","i":1,"x":0.91,"y":-2},
      {"lv":"-0.2","i":0,"x":-2,"y":1.685},{"lv":"-0.2","i":1,"x":0.456,"y":-2},
      {"lv":"-0.3","i":0,"x":-2,"y":0.887},{"lv":"-0.3","i":1,"x":-0.076,"y":-2},
      {"lv":"-0.4","i":0,"x":-2,"y":-0.185},{"lv":"-0.4","i":1,"x":-0.79,"y":-2}
    ],
    "cnon": [
      {"lv":"-0.5","i":0,"x":-1.81,"y":2},{"lv":"-0.5","i":1,"x":-1.9,"y":1.77},{"lv":"-0.5","i":2,"x":-1.98,"y":1.56},{"lv":"-0.5","i":3,"x":-2,"y":1.52},
      {"lv":"-0.4","i":0,"x":-1.576,"y":2},{"lv":"-0.4","i":1,"x":-1.66,"y":1.7},{"lv":"-0.4","i":2,"x":-1.76,"y":1.34},{"lv":"-0.4","i":3,"x":-1.85,"y":1.1},{"lv":"-0.4","i":4,"x":-1.92,"y":0.9},{"lv":"-0.4","i":5,"x":-2,"y":0.689},
      {"lv":"-0.3a","i":0,"x":-1.291,"y":2},{"lv":"-0.3a","i":1,"x":-1.354,"y":1.7},{"lv":"-0.3a","i":2,"x":-1.437,"y":1.3},{"lv":"-0.3a","i":3,"x":-1.52,"y":0.9},{"lv":"-0.3a","i":4,"x":-1.595,"y":0.543},{"lv":"-0.3a","i":5,"x":-1.66,"y":0.3},{"lv":"-0.3a","i":6,"x":-1.74,"y":0},{"lv":"-0.3a","i":7,"x":-1.83,"y":-0.3},{"lv":"-0.3a","i":8,"x":-1.92,"y":-0.6},{"lv":"-0.3a","i":9,"x":-2,"y":-0.86},
      {"lv":"-0.3b","i":0,"x":0.853,"y":-2},{"lv":"-0.3b","i":1,"x":1.1,"y":-1.96},{"lv":"-0.3b","i":2,"x":1.42,"y":-1.91},{"lv":"-0.3b","i":3,"x":1.7,"y":-1.85},{"lv":"-0.3b","i":4,"x":2,"y":-1.79},
      {"lv":"-0.2","i":0,"x":-1.1,"y":2},{"lv":"-0.2","i":1,"x":-1.135,"y":1.5},{"lv":"-0.2","i":2,"x":-1.165,"y":1.1},{"lv":"-0.2","i":3,"x":-1.2,"y":0.7},{"lv":"-0.2","i":4,"x":-1.23,"y":0.3},{"lv":"-0.2","i":5,"x":-1.247,"y":0},{"lv":"-0.2","i":6,"x":-1.235,"y":-0.3},{"lv":"-0.2","i":7,"x":-1.2,"y":-0.5},{"lv":"-0.2","i":8,"x":-1.157,"y":-0.68},{"lv":"-0.2","i":9,"x":-1.07,"y":-0.9},{"lv":"-0.2","i":10,"x":-0.956,"y":-1.04},{"lv":"-0.2","i":11,"x":-0.8,"y":-1.18},{"lv":"-0.2","i":12,"x":-0.627,"y":-1.3},{"lv":"-0.2","i":13,"x":-0.3,"y":-1.42},{"lv":"-0.2","i":14,"x":-0.005,"y":-1.497},{"lv":"-0.2","i":15,"x":0.4,"y":-1.56},{"lv":"-0.2","i":16,"x":0.85,"y":-1.59},{"lv":"-0.2","i":17,"x":1.3,"y":-1.56},{"lv":"-0.2","i":18,"x":1.7,"y":-1.49},{"lv":"-0.2","i":19,"x":2,"y":-1.45},
      {"lv":"-0.1","i":0,"x":-0.81,"y":2},{"lv":"-0.1","i":1,"x":-0.835,"y":1.5},{"lv":"-0.1","i":2,"x":-0.86,"y":1},{"lv":"-0.1","i":3,"x":-0.88,"y":0.5},{"lv":"-0.1","i":4,"x":-0.9,"y":0.1},{"lv":"-0.1","i":5,"x":-0.88,"y":-0.1},{"lv":"-0.1","i":6,"x":-0.77,"y":-0.3},{"lv":"-0.1","i":7,"x":-0.7,"y":-0.39},{"lv":"-0.1","i":8,"x":-0.553,"y":-0.57},{"lv":"-0.1","i":9,"x":-0.334,"y":-0.77},{"lv":"-0.1","i":10,"x":-0.03,"y":-0.89},{"lv":"-0.1","i":11,"x":0.5,"y":-0.96},{"lv":"-0.1","i":12,"x":0.85,"y":-1},{"lv":"-0.1","i":13,"x":1.4,"y":-1.03},{"lv":"-0.1","i":14,"x":2,"y":-1.06},
      {"lv":"0.1","i":0,"x":-0.517,"y":2},{"lv":"0.1","i":1,"x":-0.49,"y":1.5},{"lv":"0.1","i":2,"x":-0.45,"y":1},{"lv":"0.1","i":3,"x":-0.37,"y":0.5},{"lv":"0.1","i":4,"x":-0.3,"y":0.3},{"lv":"0.1","i":5,"x":-0.19,"y":0},{"lv":"0.1","i":6,"x":-0.115,"y":-0.094},{"lv":"0.1","i":7,"x":0.1,"y":-0.18},{"lv":"0.1","i":8,"x":0.5,"y":-0.25},{"lv":"0.1","i":9,"x":1,"y":-0.29},{"lv":"0.1","i":10,"x":1.5,"y":-0.303},{"lv":"0.1","i":11,"x":2,"y":-0.313},
      {"lv":"0.2","i":0,"x":-0.353,"y":2},{"lv":"0.2","i":1,"x":-0.32,"y":1.5},{"lv":"0.2","i":2,"x":-0.25,"y":1},{"lv":"0.2","i":3,"x":-0.14,"y":0.5},{"lv":"0.2","i":4,"x":-0.07,"y":0.3},{"lv":"0.2","i":5,"x":0.031,"y":0.087},{"lv":"0.2","i":6,"x":0.3,"y":0.02},{"lv":"0.2","i":7,"x":0.5,"y":-0.02},{"lv":"0.2","i":8,"x":1,"y":-0.08},{"lv":"0.2","i":9,"x":1.5,"y":-0.1},{"lv":"0.2","i":10,"x":2,"y":-0.113},
      {"lv":"0.3","i":0,"x":-0.206,"y":2},{"lv":"0.3","i":1,"x":-0.17,"y":1.6},{"lv":"0.3","i":2,"x":-0.12,"y":1.2},{"lv":"0.3","i":3,"x":-0.06,"y":0.65},{"lv":"0.3","i":4,"x":0.05,"y":0.4},{"lv":"0.3","i":5,"x":0.2,"y":0.23},{"lv":"0.3","i":6,"x":0.5,"y":0.14},{"lv":"0.3","i":7,"x":1.036,"y":0.07},{"lv":"0.3","i":8,"x":1.5,"y":0.058},{"lv":"0.3","i":9,"x":2,"y":0.05},
      {"lv":"0.4","i":0,"x":-0.03,"y":2},{"lv":"0.4","i":1,"x":-0.01,"y":1.6},{"lv":"0.4","i":2,"x":0.013,"y":1.16},{"lv":"0.4","i":3,"x":0.1,"y":0.75},{"lv":"0.4","i":4,"x":0.25,"y":0.52},{"lv":"0.4","i":5,"x":0.4,"y":0.44},{"lv":"0.4","i":6,"x":0.7,"y":0.3},{"lv":"0.4","i":7,"x":1.036,"y":0.215},{"lv":"0.4","i":8,"x":1.5,"y":0.212},{"lv":"0.4","i":9,"x":2,"y":0.215},
      {"lv":"0.5","i":0,"x":0.287,"y":2},{"lv":"0.5","i":1,"x":0.295,"y":1.7},{"lv":"0.5","i":2,"x":0.305,"y":1.34},{"lv":"0.5","i":3,"x":0.36,"y":1.1},{"lv":"0.5","i":4,"x":0.47,"y":0.8},{"lv":"0.5","i":5,"x":0.633,"y":0.62},{"lv":"0.5","i":6,"x":0.8,"y":0.53},{"lv":"0.5","i":7,"x":1.036,"y":0.47},{"lv":"0.5","i":8,"x":1.5,"y":0.43},{"lv":"0.5","i":9,"x":2,"y":0.415},
      {"lv":"0.6","i":0,"x":0.816,"y":2},{"lv":"0.6","i":1,"x":0.835,"y":1.53},{"lv":"0.6","i":2,"x":0.9,"y":1.25},{"lv":"0.6","i":3,"x":1.036,"y":1.02},{"lv":"0.6","i":4,"x":1.2,"y":0.88},{"lv":"0.6","i":5,"x":1.4,"y":0.8},{"lv":"0.6","i":6,"x":1.7,"y":0.76},{"lv":"0.6","i":7,"x":2,"y":0.737}
    ],
    "itrL": [
      {"rule":"source","x":-1.32,"y":1.97},{"rule":"source","x":1.31,"y":-1.97},
      {"rule":"target","x":-1.32,"y":1.97},{"rule":"target","x":1.31,"y":-1.97}
    ],
    "itrN": [
      {"rule":"source","x":-0.992,"y":2},{"rule":"source","x":0.469,"y":-1.916},
      {"rule":"target","x":-2,"y":1.035},{"rule":"target","x":2,"y":-1.205}
    ],
    "llin": [
      {"lab":"0.4","x":1.386,"y":1.108,"ang":56},{"lab":"0.3","x":1.021,"y":0.543,"ang":56},{"lab":"0.2","x":0.765,"y":0.142,"ang":56},{"lab":"0.1","x":0.4,"y":0,"ang":56},{"lab":"0","x":-0.02,"y":0,"ang":56},{"lab":"−0.1","x":-0.441,"y":-0.02,"ang":56},{"lab":"−0.2","x":-0.787,"y":-0.167,"ang":56},{"lab":"−0.3","x":-1.043,"y":-0.586,"ang":56},{"lab":"−0.4","x":-1.408,"y":-1.151,"ang":56}
    ],
    "lnon": [
      {"lab":"−0.5","x":-1.905,"y":1.8,"ang":-69},{"lab":"−0.4","x":-1.74,"y":1.327,"ang":-72},{"lab":"−0.3","x":-1.595,"y":0.525,"ang":-77},{"lab":"−0.2","x":-0.956,"y":-1.04,"ang":46},{"lab":"−0.1","x":-0.553,"y":-0.568,"ang":46},{"lab":"0","x":-0.316,"y":-0.277,"ang":50},{"lab":"0.1","x":-0.115,"y":-0.094,"ang":50},{"lab":"0.2","x":0.031,"y":0.087,"ang":52},{"lab":"0.3","x":0.2,"y":0.21,"ang":48},{"lab":"0.4","x":0.397,"y":0.452,"ang":42},{"lab":"0.5","x":0.652,"y":0.63,"ang":45},{"lab":"0.6","x":1.036,"y":1.02,"ang":52},{"lab":"−0.3","x":1.419,"y":-1.916,"ang":-10}
    ]
  },
  "spacing": 10,
  "bounds": "flush",
  "resolve": {"scale": {"color": "shared", "strokeDash": "shared"}},
  "hconcat": [
    {
      "width": 407,
      "height": 408,
      "title": {"text": "Linear (κ = 0)", "fontSize": 16, "fontWeight": "normal", "color": "#1a1a1a", "offset": 13},
      "encoding": {
        "x": {"field": "x", "type": "quantitative", "scale": {"domain": [-2.23, 2.23], "nice": false, "zero": false},
          "axis": {"values": [-2, -1.5, -1, -0.5, 0, 0.5, 1, 1.5, 2], "format": "d", "labelExpr": "datum.value % 1 === 0 ? datum.label : ''", "title": "x₁", "titleX": 412, "titlePadding": 1, "gridWidth": {"condition": {"test": "datum.value % 1 !== 0", "value": 0.6}, "value": 1.2}}},
        "y": {"field": "y", "type": "quantitative", "scale": {"domain": [-2.23, 2.23], "nice": false, "zero": false},
          "axis": {"values": [-2, -1.5, -1, -0.5, 0, 0.5, 1, 1.5, 2], "format": "d", "labelExpr": "datum.value % 1 === 0 ? datum.label : ''", "title": "x₂", "labelPadding": 11, "titlePadding": 7, "gridWidth": {"condition": {"test": "datum.value % 1 !== 0", "value": 0.6}, "value": 1.2}}}
      },
      "layer": [
        {"data": {"name": "lin"}, "mark": {"type": "square", "size": 350, "opacity": 1, "filled": true, "strokeWidth": 0},
          "encoding": {"color": {"field": "t", "type": "quantitative", "title": "τ(x)", "scale": {"scheme": "redblue", "domain": [-0.77, 0.77]},
            "legend": {"orient": "none", "legendX": 857, "legendY": 33, "gradientLength": 171, "gradientThickness": 34, "values": [-0.4, 0, 0.4], "format": ".1f", "titlePadding": 11, "labelOffset": 10}}}},
        {"data": {"name": "clin"}, "mark": {"type": "line", "stroke": "white", "strokeWidth": 1.5},
          "encoding": {"detail": {"field": "lv"}, "order": {"field": "i"}}},
        {"data": {"name": "itrL"}, "mark": {"type": "line", "color": "#222222", "strokeWidth": 1.6},
          "encoding": {"strokeDash": {"field": "rule", "type": "nominal", "title": "optimal ITR", "scale": {"domain": ["source", "target"], "range": [[8, 5], [1, 0]]},
            "legend": {"orient": "none", "legendX": 857, "legendY": 282, "symbolType": "stroke", "symbolSize": 729, "symbolStrokeWidth": 1.6, "symbolStrokeColor": "#333333", "rowPadding": 11, "titlePadding": 11, "labelOffset": 14}}}},
        {"data": {"name": "llin"}, "mark": {"type": "text", "fontSize": 16, "fill": "white", "stroke": "white", "strokeWidth": 4, "strokeJoin": "round", "align": "center", "baseline": "middle"},
          "encoding": {"text": {"field": "lab"}, "angle": {"field": "ang", "type": "quantitative", "scale": null}}},
        {"data": {"name": "llin"}, "mark": {"type": "text", "fontSize": 16, "fill": "#4d4d4d", "align": "center", "baseline": "middle"},
          "encoding": {"text": {"field": "lab"}, "angle": {"field": "ang", "type": "quantitative", "scale": null}}}
      ]
    },
    {
      "width": 407,
      "height": 408,
      "title": {"text": "Nonlinear (κ = 0.4)", "fontSize": 16, "fontWeight": "normal", "color": "#1a1a1a", "offset": 13},
      "encoding": {
        "x": {"field": "x", "type": "quantitative", "scale": {"domain": [-2.23, 2.23], "nice": false, "zero": false},
          "axis": {"values": [-2, -1.5, -1, -0.5, 0, 0.5, 1, 1.5, 2], "format": "d", "labelExpr": "datum.value % 1 === 0 ? datum.label : ''", "title": null, "gridWidth": {"condition": {"test": "datum.value % 1 !== 0", "value": 0.6}, "value": 1.2}}},
        "y": {"field": "y", "type": "quantitative", "scale": {"domain": [-2.23, 2.23], "nice": false, "zero": false},
          "axis": {"values": [-2, -1.5, -1, -0.5, 0, 0.5, 1, 1.5, 2], "labels": false, "title": null, "gridWidth": {"condition": {"test": "datum.value % 1 !== 0", "value": 0.6}, "value": 1.2}}}
      },
      "layer": [
        {"data": {"name": "non"}, "mark": {"type": "square", "size": 350, "opacity": 1, "filled": true, "strokeWidth": 0},
          "encoding": {"color": {"field": "t", "type": "quantitative", "title": "τ(x)"}}},
        {"data": {"name": "cnon"}, "mark": {"type": "line", "stroke": "white", "strokeWidth": 1.5, "interpolate": "catmull-rom"},
          "encoding": {"detail": {"field": "lv"}, "order": {"field": "i"}}},
        {"data": {"name": "itrN"}, "mark": {"type": "line", "color": "#333333", "strokeWidth": 1.6},
          "encoding": {"strokeDash": {"field": "rule", "type": "nominal", "title": "optimal ITR"}}},
        {"data": {"name": "lnon"}, "mark": {"type": "text", "fontSize": 16, "fill": "white", "stroke": "white", "strokeWidth": 4, "strokeJoin": "round", "align": "center", "baseline": "middle"},
          "encoding": {"text": {"field": "lab"}, "angle": {"field": "ang", "type": "quantitative", "scale": null}}},
        {"data": {"name": "lnon"}, "mark": {"type": "text", "fontSize": 16, "fill": "#4d4d4d", "align": "center", "baseline": "middle"},
          "encoding": {"text": {"field": "lab"}, "angle": {"field": "ang", "type": "quantitative", "scale": null}}}
      ]
    }
  ]
}
